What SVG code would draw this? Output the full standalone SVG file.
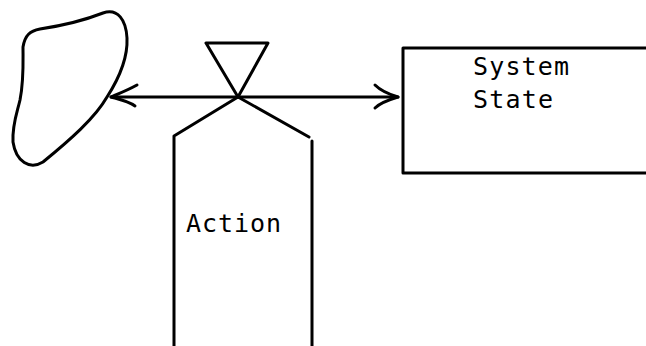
<svg xmlns="http://www.w3.org/2000/svg" width="646" height="346" viewBox="0 0 646 346">
<style>
.ln{fill:none;stroke:#000;stroke-width:3;stroke-linecap:round;stroke-linejoin:round}
.tx{font-family:"DejaVu Sans Mono","Liberation Mono",monospace;font-size:25px;fill:#000}
</style>
<rect width="646" height="346" fill="#fff"/>
<g id="environment">
<path class="ln" d="M23,47 C25,35 30,31 40,29 C60,26 80,22 103,13 C118,8 126,20 127,38 C128,60 118,80 107,97 C95,118 70,140 43,162 C30,170 16,162 13,142 C12,125 17,113 20,100 C24,80 23,62 23,47 Z"/>
</g>
<g id="system-state">
<path class="ln" d="M648,48 L403,48 L403,173 L648,173"/>
<text class="tx" x="473" y="75" textLength="96">System</text>
<text class="tx" x="473" y="108" textLength="80">State</text>
</g>
<g id="action">
<path class="ln" d="M206,43 L268,43 L238,97 Z"/>
<path class="ln" d="M238,97 L174,136 L174,348"/>
<path class="ln" d="M238,97 L309,137"/>
<path class="ln" d="M312,141 L312,348"/>
<text class="tx" x="186" y="232" textLength="95" font-size="27">Action</text>
</g>
<g id="connectors">
<path class="ln" d="M111,97 L398,97"/>
<path class="ln" d="M137,85 C128,90 118,94 111,97 C118,99 128,101 135,106"/>
<path class="ln" d="M375,85 C380,90 388,94 398,97 C388,100 380,103 375,108"/>
</g>
</svg>
